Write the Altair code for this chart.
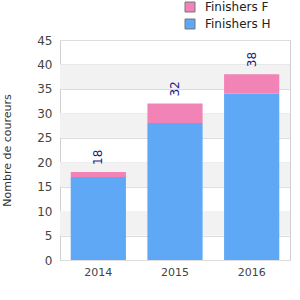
import altair as alt
import pandas as pd

years = ["2014", "2015", "2016"]
finishers_h = [17, 28, 34]
finishers_f = [1, 4, 4]
totals = [18, 32, 38]
band_lo = [5, 15, 25, 35]
band_hi = [10, 20, 30, 40]

rows = []
for y, h, f in zip(years, finishers_h, finishers_f):
    rows.append({"year": y, "serie": "Finishers H", "value": h, "ord": 0})
    rows.append({"year": y, "serie": "Finishers F", "value": f, "ord": 1})
df = pd.DataFrame(rows)
tot = pd.DataFrame({"year": years, "total": totals})
bands = pd.DataFrame({"lo": band_lo, "hi": band_hi})

yscale = alt.Scale(domain=[0, 45], nice=False)
xscale = alt.Scale(domain=years, paddingInner=0.28, paddingOuter=0.14)

yaxis = alt.Axis(title="Nombre de coureurs", values=list(range(0, 50, 5)),
                 ticks=False, domain=False, grid=True, gridColor="#dddddd",
                 labelOverlap=False,
                 labelColor="#444444", labelFontSize=12, labelPadding=8,
                 labelFont="DejaVu Sans",
                 titleFont="DejaVu Sans", titleFontSize=11,
                 titleFontWeight="normal", titleColor="#333333",
                 titlePadding=24)
xaxis = alt.Axis(title=None, labelAngle=0, ticks=False, domain=False,
                 labelColor="#444444", labelFontSize=11, labelPadding=6,
                 labelFont="DejaVu Sans")

bg = alt.Chart(bands).mark_rect(color="#f2f2f2").encode(
    y=alt.Y("lo:Q", scale=yscale, axis=yaxis),
    y2="hi:Q",
    x=alt.value(0),
    x2=alt.value(230),
)

bars = alt.Chart(df).mark_bar().encode(
    x=alt.X("year:N", scale=xscale, sort=years, axis=xaxis),
    y=alt.Y("value:Q", scale=yscale, stack="zero", axis=yaxis),
    color=alt.Color("serie:N",
                    scale=alt.Scale(domain=["Finishers F", "Finishers H"],
                                    range=["#f283b6", "#5fa8f5"]),
                    legend=alt.Legend(title=None, orient="none", legendX=124, legendY=-39,
                                      symbolType="square", symbolSize=100,
                                      symbolStrokeColor="#777777", symbolStrokeWidth=1,
                                      labelFont="DejaVu Sans", labelFontSize=12,
                                      labelOffset=9,
                                      labelColor="#222222", rowPadding=3)),
    order=alt.Order("ord:Q"),
)

labels = alt.Chart(tot).mark_text(angle=270, align="left", baseline="middle", dx=7,
                                   color="#1a1a8c", fontSize=12, font="DejaVu Sans").encode(
    x=alt.X("year:N", scale=xscale, sort=years, axis=xaxis),
    y=alt.Y("total:Q", scale=yscale, axis=yaxis),
    text="total:Q",
)

chart = alt.layer(bg, bars, labels).properties(
    width=230, height=220,
    autosize=alt.AutoSizeParams(type="none"),
    padding={"left": 60, "top": 40, "right": 10, "bottom": 40},
).configure_view(stroke="#d0d0d0", strokeWidth=1)

chart.save("out.html", embed_options={"renderer": "svg", "actions": False})
